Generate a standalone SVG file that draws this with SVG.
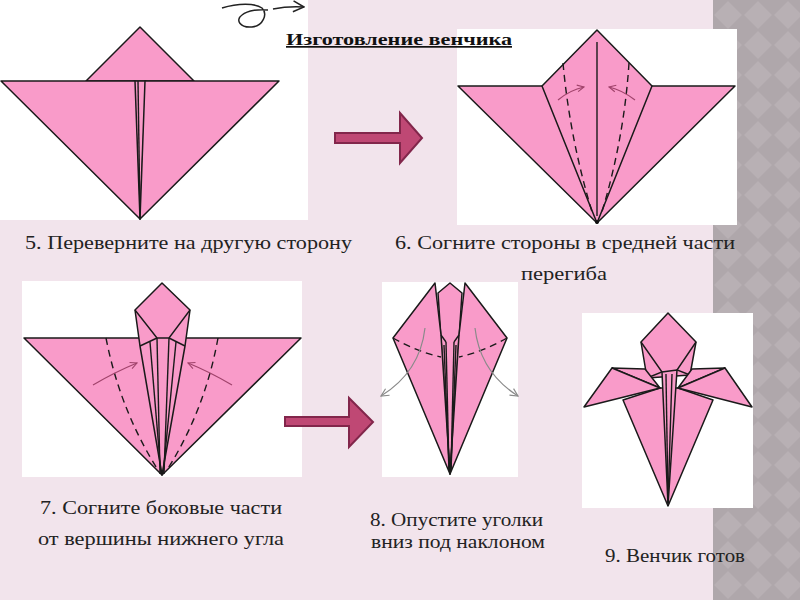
<svg xmlns="http://www.w3.org/2000/svg" width="800" height="600" viewBox="0 0 800 600">
<defs>
<pattern id="dia" x="713" y="0" width="30" height="30" patternUnits="userSpaceOnUse">
<rect width="30" height="30" fill="#AFA7AB"/>
<polygon points="15,1 29,15 15,29 1,15" fill="#B8B0B4"/>
</pattern>
<marker id="ah" viewBox="0 0 10 10" refX="9" refY="5" markerWidth="7" markerHeight="7" orient="auto">
<path d="M1,1 L9,5 L1,9" fill="none" stroke="#A0436B" stroke-width="1.3"/>
</marker>
<marker id="ahg" viewBox="0 0 10 10" refX="9" refY="5" markerWidth="8" markerHeight="8" orient="auto">
<path d="M1,1 L9,5 L1,9" fill="none" stroke="#8A8A8A" stroke-width="1.2"/>
</marker>
<marker id="ahk" viewBox="0 0 10 10" refX="9" refY="5" markerWidth="9" markerHeight="9" orient="auto">
<path d="M1,1 L9,5 L1,9" fill="none" stroke="#222" stroke-width="1.1"/>
</marker>
</defs>
<style>
.box{fill:#FFFFFF}
.p{fill:#F99BC9;stroke:#1A1A1A;stroke-width:1.5;stroke-linejoin:round}
.l{fill:none;stroke:#1A1A1A;stroke-width:1.4}
.d{fill:none;stroke:#1A1A1A;stroke-width:1.4;stroke-dasharray:7,5}
.ca{fill:none;stroke:#A0436B;stroke-width:1.2}
.ga{fill:none;stroke:#8A8A8A;stroke-width:1.2}
.big{fill:#BF4874;stroke:#82264B;stroke-width:2;stroke-linejoin:miter}
.t{font-family:"Liberation Serif","DejaVu Serif",serif;font-size:19px;fill:#222}
.h{font-family:"Liberation Serif","DejaVu Serif",serif;font-size:17px;font-weight:bold;fill:#111;text-decoration:underline}
</style>
<rect width="800" height="600" fill="#F2E4EC"/>
<rect x="713" y="0" width="87" height="600" fill="url(#dia)"/>

<g id="step5">
<rect class="box" x="0" y="0" width="308" height="220"/>
<polygon class="p" points="86,81 140,27 194,81"/>
<polygon class="p" points="134,81 146,81 140,219"/>
<polygon class="p" points="1,81 135,81 140,219"/>
<polygon class="p" points="145,81 279,81 140,219"/>
<line class="l" x1="138" y1="81" x2="140" y2="217"/>
</g>

<g id="step6">
<rect class="box" x="457" y="29" width="280" height="196"/>
<polygon class="p" points="458,86 735,86 597,223"/>
<polygon class="p" points="542,86 597,30 652,86 597,223"/>
<line class="l" x1="597" y1="42" x2="597" y2="216"/>
<path class="d" d="M563,63 Q570,140 593,215"/>
<path class="d" d="M629,63 Q624,140 601,215"/>
<path class="ca" d="M558,100 Q570,90 584,87" marker-end="url(#ah)"/>
<path class="ca" d="M635,100 Q622,90 609,87" marker-end="url(#ah)"/>
<circle cx="597" cy="222" r="2" fill="#111"/>
</g>

<g id="step7">
<rect class="box" x="22" y="281" width="280" height="196"/>
<polygon class="p" points="24,338 301,338 162,475"/>
<polygon class="p" points="135,310 162,283 190,310 185,346 162,475 140,346"/>
<polyline class="l" points="135,310 157,338 169,338 190,310"/>
<line class="l" x1="140" y1="346" x2="157" y2="338"/>
<line class="l" x1="185" y1="346" x2="169" y2="338"/>
<line class="l" x1="157" y1="338" x2="160" y2="474"/>
<line class="l" x1="169" y1="338" x2="164" y2="474"/>
<line class="l" x1="150" y1="342" x2="161" y2="474"/>
<line class="l" x1="176" y1="342" x2="163" y2="474"/>
<path class="d" d="M106,338 Q120,410 158,470"/>
<path class="d" d="M218,338 Q205,410 167,470"/>
<path class="ca" d="M93,385 Q115,372 137,363" marker-end="url(#ah)"/>
<path class="ca" d="M232,385 Q210,372 188,363" marker-end="url(#ah)"/>
</g>

<g id="step8">
<rect class="box" x="382" y="282" width="136" height="195"/>
<polygon class="p" points="438,293 450,283 462,293 450,474"/>
<polygon class="p" points="435,283 393,338 450,474 441,335"/>
<polygon class="p" points="465,283 507,338 450,474 459,335"/>
<line class="l" x1="441" y1="335" x2="446" y2="342"/>
<line class="l" x1="459" y1="335" x2="454" y2="342"/>
<line class="l" x1="446" y1="342" x2="449" y2="470"/>
<line class="l" x1="454" y1="342" x2="451" y2="470"/>
<line class="l" x1="444" y1="345" x2="449" y2="470"/>
<line class="l" x1="456" y1="345" x2="451" y2="470"/>
<path class="d" d="M393,338 Q418,352 441,357"/>
<path class="d" d="M507,338 Q482,352 459,357"/>
<path class="ga" d="M425,328 Q420,372 381,396" marker-end="url(#ahg)"/>
<path class="ga" d="M475,328 Q480,372 518,396" marker-end="url(#ahg)"/>
</g>

<g id="step9">
<rect class="box" x="582" y="313" width="171" height="195"/>
<polygon class="p" points="623,400 660,388 678,388 713,400 668,506"/>
<polygon class="p" points="641,342 668,313 696,342 690,375 647,378"/>
<polyline class="l" points="641,342 662,372 647,378"/>
<polyline class="l" points="696,342 677,370 690,375"/>
<polygon class="p" points="612,368 645,369 660,388"/>
<polygon class="p" points="725,368 692,369 678,388"/>
<polygon class="p" points="612,368 584,407 660,388"/>
<polygon class="p" points="725,368 752,407 678,388"/>
<polygon class="p" points="662,372 677,370 668,505"/>
<line class="l" x1="666" y1="374" x2="668" y2="503"/>
<line class="l" x1="672" y1="374" x2="668" y2="503"/>
</g>

<g id="arrows">
<polygon class="big" points="335,133 400,133 400,113 422,138 400,163 400,143 335,143"/>
<polygon class="big" points="285,417 349,417 349,398 373,422 349,447 349,426 285,426"/>
<path d="M222,8 C238,3 255,3 262,8 C268,14 263,26 252,27 C240,28 235,20 242,15 C248,10 260,9 268,10" fill="none" stroke="#222" stroke-width="1.5"/>
<path d="M273,9 Q288,6 304,7" fill="none" stroke="#222" stroke-width="1.5" marker-end="url(#ahk)"/>
</g>

<g id="texts">
<text class="h" x="286" y="45" textLength="226" lengthAdjust="spacingAndGlyphs">Изготовление венчика</text>
<text class="t" x="25" y="249" textLength="327" lengthAdjust="spacingAndGlyphs">5. Переверните на другую сторону</text>
<text class="t" x="395" y="249" textLength="340" lengthAdjust="spacingAndGlyphs">6. Согните стороны в средней части</text>
<text class="t" x="521" y="280" textLength="86" lengthAdjust="spacingAndGlyphs">перегиба</text>
<text class="t" x="40" y="514" textLength="242" lengthAdjust="spacingAndGlyphs">7. Согните боковые части</text>
<text class="t" x="38" y="545" textLength="246" lengthAdjust="spacingAndGlyphs">от вершины нижнего угла</text>
<text class="t" x="370" y="526" textLength="173" lengthAdjust="spacingAndGlyphs">8. Опустите уголки</text>
<text class="t" x="371" y="548" textLength="174" lengthAdjust="spacingAndGlyphs">вниз под наклоном</text>
<text class="t" x="605" y="562" textLength="140" lengthAdjust="spacingAndGlyphs">9. Венчик готов</text>
</g>
</svg>
